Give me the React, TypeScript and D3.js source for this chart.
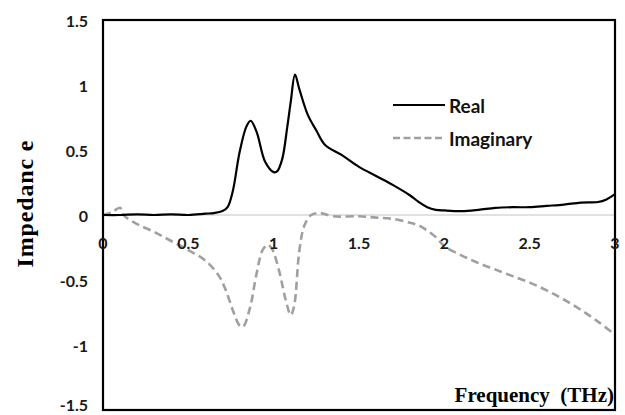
import React from "react";
import { scaleLinear, line, curveCatmullRom } from "d3";

// Real part
const realFreq = [0, 0.1, 0.2, 0.3, 0.4, 0.5, 0.6, 0.65, 0.7, 0.73, 0.76, 0.8, 0.84, 0.865, 0.9, 0.95, 1.0, 1.02, 1.05, 1.08, 1.1, 1.125, 1.15, 1.2, 1.25, 1.3, 1.4, 1.5, 1.6, 1.7, 1.8, 1.85, 1.9, 1.95, 2.0, 2.1, 2.2, 2.3, 2.4, 2.5, 2.6, 2.7, 2.8, 2.9, 2.95, 3.0];
const realValues = [0, 0.0, 0.005, 0.0, 0.005, 0.0, 0.01, 0.015, 0.03, 0.06, 0.18, 0.48, 0.68, 0.725, 0.64, 0.41, 0.33, 0.335, 0.43, 0.68, 0.87, 1.08, 0.97, 0.77, 0.65, 0.54, 0.46, 0.37, 0.3, 0.23, 0.15, 0.1, 0.06, 0.04, 0.035, 0.03, 0.04, 0.055, 0.06, 0.06, 0.07, 0.08, 0.095, 0.1, 0.12, 0.16];

// Imaginary part
const imagFreq = [0, 0.05, 0.1, 0.12, 0.2, 0.3, 0.4, 0.5, 0.6, 0.68, 0.72, 0.76, 0.8, 0.82, 0.86, 0.9, 0.935, 0.965, 0.99, 1.03, 1.07, 1.1, 1.12, 1.15, 1.18, 1.22, 1.27, 1.35, 1.5, 1.6, 1.7, 1.8, 1.85, 1.9, 1.95, 2.0, 2.1, 2.2, 2.3, 2.4, 2.5, 2.6, 2.7, 2.8, 2.9, 3.0];
const imagValues = [0, 0.02, 0.055, 0.0, -0.07, -0.13, -0.2, -0.27, -0.35, -0.47, -0.58, -0.73, -0.85, -0.86, -0.72, -0.45, -0.27, -0.23, -0.26, -0.42, -0.65, -0.77, -0.7, -0.28, -0.08, 0.0, 0.015, -0.01, -0.01, -0.02, -0.03, -0.06, -0.08, -0.12, -0.17, -0.24, -0.31, -0.37, -0.42, -0.47, -0.52, -0.58, -0.65, -0.73, -0.82, -0.92];

const xTicks = [0, 0.5, 1, 1.5, 2, 2.5, 3];
const yTicks = [1.5, 1, 0.5, 0, -0.5, -1, -1.5];

const App = () => {
  const width = 625;
  const height = 415;
  const left = 103;
  const right = 615;
  const top = 20;
  const bottom = 410;

  const xScale = scaleLinear().domain([0, 3]).range([left, right]);
  const yScale = scaleLinear().domain([-1.5, 1.5]).range([bottom, top]);

  const pathGen = line<[number, number]>()
    .x((d) => xScale(d[0]))
    .y((d) => yScale(d[1]))
    .curve(curveCatmullRom.alpha(0.5));

  const realPath = pathGen(realFreq.map((f, i) => [f, realValues[i]]));
  const imagPath = pathGen(imagFreq.map((f, i) => [f, imagValues[i]]));

  const tickFont = "Lato, 'Noto Sans', sans-serif";

  return (
    <svg
      width={width}
      height={height}
      style={{ position: "absolute", left: 0, top: 0, background: "#fff" }}
    >
      <rect x={0} y={0} width={width} height={height} fill="#fff" />
      {/* zero line */}
      <line x1={left} x2={right} y1={yScale(0)} y2={yScale(0)} stroke="#c4c4c4" strokeWidth={1.2} />

      <path d={imagPath || ""} fill="none" stroke="#a0a0a0" strokeWidth={2.6} strokeDasharray="8,4.5" />
      <path d={realPath || ""} fill="none" stroke="#000" strokeWidth={2.2} />

      <rect x={left} y={top} width={right - left} height={bottom - top} fill="none" stroke="#000" strokeWidth={2.2} />

      {yTicks.map((t) => (
        <text
          key={t}
          x={88}
          y={t === -1.5 ? yScale(t) - 6 : yScale(t)}
          textAnchor="end"
          dominantBaseline="central"
          fontFamily={tickFont}
          fontWeight="bold"
          fontSize={16}
          fill="#1a1a1a"
        >
          {t}
        </text>
      ))}
      {xTicks.map((t) => (
        <text
          key={t}
          x={xScale(t)}
          y={242}
          textAnchor="middle"
          dominantBaseline="central"
          fontFamily={tickFont}
          fontWeight="bold"
          fontSize={16}
          fill="#1a1a1a"
        >
          {t}
        </text>
      ))}

      {/* legend */}
      <line x1={393} x2={445} y1={105} y2={105} stroke="#000" strokeWidth={2.2} />
      <text x={449} y={105} dominantBaseline="central" fontFamily={tickFont} fontWeight="bold" fontSize={19} fill="#111">
        Real
      </text>
      <line x1={393} x2={445} y1={138} y2={138} stroke="#a0a0a0" strokeWidth={2.4} strokeDasharray="7,3.5" />
      <text x={449} y={138} dominantBaseline="central" fontFamily={tickFont} fontWeight="bold" fontSize={19} fill="#111">
        Imaginary
      </text>

      {/* axis titles */}
      <text
        transform="translate(33,204) rotate(-90)"
        textAnchor="middle"
        fontFamily="'Liberation Serif', 'DejaVu Serif', serif"
        fontWeight="bold"
        fontSize={24}
        textLength={127}
        lengthAdjust="spacing"
        fill="#000"
      >
        Impedanc e
      </text>
      <text
        x={614}
        y={402}
        textAnchor="end"
        fontFamily="'Liberation Serif', 'DejaVu Serif', serif"
        fontWeight="bold"
        fontSize={21}
        fill="#000"
        style={{ whiteSpace: "pre" }}
      >
        Frequency  (THz)
      </text>
    </svg>
  );
};

export default App;
